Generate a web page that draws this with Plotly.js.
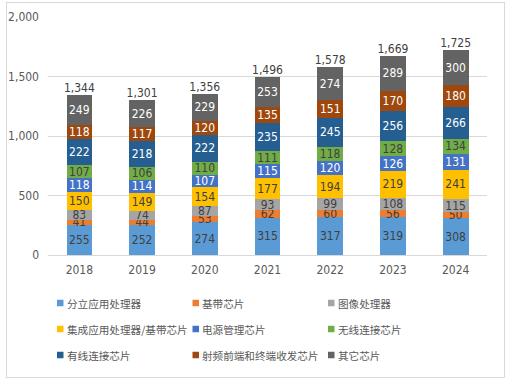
<!DOCTYPE html>
<html><head><meta charset="utf-8">
<script src="https://cdn.plot.ly/plotly-3.0.1.min.js"></script>
<style>
html,body{margin:0;padding:0;background:#fff;}
#wrap{position:relative;width:514px;height:385px;}
#chart{width:514px;height:385px;}
#frame{position:absolute;left:6px;top:2px;width:497px;height:374px;border:1px solid #d9d9d9;pointer-events:none;}
</style></head>
<body>
<div id="wrap"><div id="chart"></div><div id="frame"></div></div>
<script>
const years = ['2018','2019','2020','2021','2022','2023','2024'];
const seriesNames = ['分立应用处理器','基带芯片','图像处理器','集成应用处理器/基带芯片','电源管理芯片','无线连接芯片','有线连接芯片','射频前端和终端收发芯片','其它芯片'];
const discreteAP = [255,252,274,315,317,319,308];
const baseband = [41,44,53,62,60,56,50];
const imageProc = [83,74,87,93,99,108,115];
const integratedAP = [150,149,154,177,194,219,241];
const powerMgmt = [118,114,107,115,120,126,131];
const wireless = [107,106,110,111,118,128,134];
const wired = [222,218,222,235,245,256,266];
const rfFrontEnd = [118,117,120,135,151,170,180];
const others = [249,226,229,253,274,289,300];
const totals = [1344,1301,1356,1496,1578,1669,1725];

const seriesValues = [discreteAP,baseband,imageProc,integratedAP,powerMgmt,wireless,wired,rfFrontEnd,others];
const colors = ['#5B9BD5','#ED7D31','#A5A5A5','#FFC000','#4472C4','#70AD47','#255E91','#9E480E','#636363'];
const textColors = ['#404040','#404040','#404040','#404040','#ffffff','#404040','#ffffff','#ffffff','#ffffff'];
const numFont = 'DejaVu Sans Condensed, Liberation Sans Narrow, Noto Sans CJK SC, sans-serif';
const cjkFont = 'Noto Sans CJK SC, sans-serif';

const W = 514, H = 385;
const M = {l:48, r:27, t:17, b:130};
const pw = W - M.l - M.r, ph = H - M.t - M.b;
const px2x = px => (px - M.l) / pw;
const py2y = py => (H - M.b - py) / ph;

const traces = seriesValues.map((vals,i)=>({
  type:'bar', name:seriesNames[i], x:years, y:vals,
  marker:{color:colors[i]},
  text:vals.map(String), textposition:'inside', insidetextanchor:'middle', textangle:0,
  textfont:{family:numFont,size:12,color:textColors[i]},
  hoverinfo:'none', showlegend:false
}));

traces.push({
  type:'scatter', mode:'text', x:years, y:totals, showlegend:false,
  text:totals.map(v=>v.toLocaleString('en-US')), textposition:'top center',
  textfont:{family:numFont,size:12,color:'#404040'}, cliponaxis:false, hoverinfo:'none'
});

// Legend laid out as a 3-column grid (Excel style: small square right before the text)
const legendCols = 3, colStep = 135.5, rowStep = 26, legX0 = 57, legY0 = 303, sq = 6.5;
const shapes = [], annotations = [];
seriesNames.forEach((nm,i)=>{
  const c = i % legendCols, r = Math.floor(i / legendCols);
  const sx = legX0 + c*colStep, cy = legY0 + r*rowStep;
  shapes.push({type:'rect', xref:'paper', yref:'paper',
    x0:px2x(sx), x1:px2x(sx+sq), y0:py2y(cy+sq/2), y1:py2y(cy-sq/2),
    fillcolor:colors[i], line:{width:0}});
  annotations.push({xref:'paper', yref:'paper', x:px2x(sx+sq+1), y:py2y(cy),
    xanchor:'left', yanchor:'middle', text:nm, showarrow:false,
    font:{family:cjkFont,size:10.6,color:'#595959'}});
});

const layout = {
  width:W, height:H,
  margin:M,
  barmode:'stack', bargap:0.59,
  paper_bgcolor:'#ffffff', plot_bgcolor:'#ffffff',
  uniformtext:{mode:'show',minsize:12},
  xaxis:{type:'category',tickfont:{family:numFont,size:12,color:'#595959'},showline:false,ticks:'',showgrid:false,ticklabelstandoff:6},
  yaxis:{range:[0,2000],dtick:500,tickformat:',',gridcolor:'#d9d9d9',zeroline:true,zerolinecolor:'#d9d9d9',
    tickfont:{family:numFont,size:12,color:'#595959'},ticks:'',showline:false,ticklabelstandoff:8},
  showlegend:false,
  shapes:shapes,
  annotations:annotations
};
Plotly.newPlot('chart',traces,layout,{displayModeBar:false,staticPlot:true});
</script>
</body></html>
